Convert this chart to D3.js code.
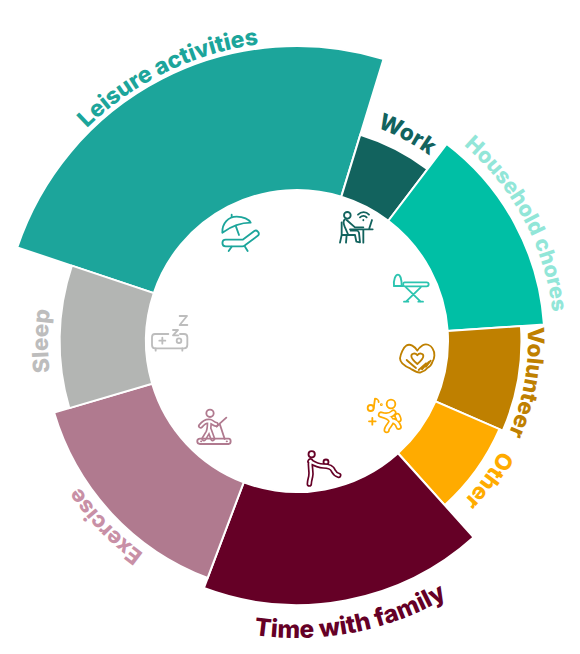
<!DOCTYPE html>
<html><head><meta charset="utf-8">
<script src="https://cdn.jsdelivr.net/npm/d3@7/dist/d3.min.js"></script>
<style>html,body{margin:0;padding:0;background:#fff}svg{display:block}</style>
</head><body><svg id="c" width="580" height="654"></svg>
<script>
const categories=["Leisure activities","Work","Household chores","Volunteer","Other","Time with family","Exercise","Sleep"];
const shareOfTime=[24.6,5.6,13.6,7.6,6.8,17.4,14.7,9.7];
const satisfaction=[100,45,67,51,48.5,78.5,71,60];
const sliceColors=["#1ca59b","#12635e","#00bfa5","#bf8000","#ffab00","#650026","#b07a8f","#b3b5b3"];
const labelColors=["#1ca59b","#12635e","#92e6d8","#bf8000","#ffab00","#650026","#c890a6","#bdbdbd"];

const W=580,H=654,cx=297,cy=341,R0=151,R1=295;
const rad=d=>d*Math.PI/180;
const svg=d3.select("#c");
const g=svg.append("g").attr("transform",`translate(${cx},${cy})`);
const rScale=d3.scaleLinear().domain([0,100]).range([R0,R1]);
const pie=d3.pie().value(d=>d.share).sort(null).startAngle(rad(288.5)).endAngle(rad(648.5));
const rows=categories.map((name,i)=>({name,share:shareOfTime[i],level:satisfaction[i],color:sliceColors[i],lc:labelColors[i]}));
const arc=d3.arc().innerRadius(R0).outerRadius(d=>rScale(d.data.level));
g.selectAll("path.s").data(pie(rows)).join("path").attr("class","s")
 .attr("d",arc).attr("fill",d=>d.data.color).attr("stroke","#fff").attr("stroke-width",2);

// curved labels: [baseline radius, centre angle, font size]
const labelLayout=[[299,-26,23],[228,28,22.5],[257,62,21.5],[231,100.2,22.5],[231,126,22.5],[297,169,24.5],[262,226,22],[249,270,22.5]];
const defs=svg.append("defs");
rows.forEach((d,i)=>{
  const [r,a,fs]=labelLayout[i];
  const ccw=d.name==="Time with family";
  const s=rad(a-(ccw?-70:70)),e=rad(a+(ccw?-70:70));
  const p=t=>[r*Math.sin(t),-r*Math.cos(t)];
  const [x0,y0]=p(s),[x1,y1]=p(e);
  defs.append("path").attr("id","lp"+i).attr("d",`M${x0} ${y0}A${r} ${r} 0 0 ${ccw?0:1} ${x1} ${y1}`);
  g.append("text").attr("font-family","Inter, Lato, sans-serif").attr("font-weight",800)
   .attr("font-size",fs).attr("fill",d.lc).attr("text-anchor","middle")
   .append("textPath").attr("href","#lp"+i).attr("startOffset","50%").text(d.name);
});

// line icons, authored in 3x crop space
function icon(ox,oy,color,draw){
  const t=svg.append("g").attr("transform",`translate(${ox},${oy}) scale(${1/3})`)
    .attr("fill","none").attr("stroke",color).attr("stroke-width",5.5).attr("stroke-linecap","round").attr("stroke-linejoin","round");
  draw({
    p:(d,w)=>{const e=t.append("path").attr("d",d);if(w)e.attr("stroke-width",w);return e;},
    c:(x,y,r)=>t.append("circle").attr("cx",x).attr("cy",y).attr("r",r),
    limb:(d,w)=>{t.append("path").attr("d",d).attr("stroke-width",w);t.append("path").attr("d",d).attr("stroke","#fff").attr("stroke-width",w-10);}
  });
}
// lounger
icon(130,190,"#1ca59b",({p})=>{
  p("M277 128C276 100 295 80 320 80C340 80 357 88 362 98C335 98 305 108 277 128Z");
  p("M305 80L305 74M318 110L327 135");
  p("M287 149L338 149L373 123C380 118 390 128 385 136L345 166C343 168 340 169 337 169L287 169C274 169 274 149 287 149Z");
  p("M305 170L296 183M345 170L353 183");
});
// bed with zzz
icon(130,190,"#bdbdbd",({p,c})=>{
  p("M115 432L75 432C69 432 66 436 66 442L66 465C66 471 69 475 75 475L162 475C168 475 172 471 172 465L172 442C172 436 168 432 162 432L150 432");
  p("M77 475L77 482M157 475L157 482");
  p("M88 452L106 452M97 443L97 461");
  c(147,452,7);
  p("M149 378L171 378L149 405L172 405");
  p("M129 420L144 420L129 436L145 436");
});
// worker
icon(330,190,"#12635e",({p,c})=>{
  c(52,76,10);
  p("M45 88C38 92 40 100 44 110L55 135L75 135L79 155L90 157L87 128C86 124 83 122 80 122L62 122");
  p("M50 90L75 112L100 112");
  p("M35 97L35 135L55 135M35 135L30 158M50 135L48 158");
  p("M60 118L128 118M100 118L100 158M118 115L126 90");
  p("M84 74C94 64 108 64 117 74M90 82C96 76 105 76 110 82");
  p("M100 90L100 91");
});
// ironing board
icon(330,190,"#2cc4b0",({p})=>{
  p("M192 288C190 270 196 254 204 254C211 254 215 270 215 288Z");
  p("M192 288L218 288");
  p("M224 277L290 277C298 277 298 289 290 289L224 289C218 289 218 277 224 277Z");
  p("M228 292L272 335M272 292L228 335M222 335L235 335M265 335L279 335");
});
// hands and heart
icon(180,330,"#bf8000",({p})=>{
  p("M712 62C704 48 690 41 680 46C670 52 662 72 660 85C660 98 672 108 692 116C702 122 712 130 722 127C730 125 738 120 742 114C750 110 755 104 757 96C764 86 766 68 758 56C752 44 738 40 728 46C722 50 716 54 712 62Z");
  p("M712 102C700 92 694 85 694 78C694 70 706 67 712 76C718 67 730 70 730 78C730 85 724 92 712 102Z");
  p("M680 90C688 98 698 106 708 114M716 120L738 100M726 118L746 96M738 110L752 92");
});
// dancer
icon(180,330,"#ffab00",({p,c,limb})=>{
  c(572,234,9);p("M581 234L585 206C590 206 596 210 596 216");
  c(604,224,1.5);p("M567 274L587 274M577 264L577 284");
  c(633,222,13);
  limb("M603 254C616 258 630 258 640 248M652 258C654 262 656 266 656 268M603 254C618 258 632 262 634 274C634 282 620 290 620 300M634 272C644 272 652 278 656 290",19);
});
// parent and child
icon(180,330,"#650026",({p,c,limb})=>{
  c(395,373,9.5);c(438,396,7.5);
  limb("M392 393C388 410 396 425 392 440C390 448 388 455 388 462M390 394C400 400 415 408 430 408C445 408 456 412 460 422C464 430 470 434 476 436",17);
});
// treadmill
icon(180,330,"#b07a8f",({p,c,limb})=>{
  c(90,250,11);
  limb("M62 288C70 278 80 272 90 274C97 276 102 282 108 283M88 276C88 290 88 296 84 306L72 326M88 298L98 326",16);
  p("M139 263L119 281L134 327M119 281L110 290");
  p("M60 326L146 326C154 326 154 342 146 342L60 342C49 342 49 326 60 326Z");
  p("M63 334L64 334M140 334L141 334");
});
</script></body></html>
